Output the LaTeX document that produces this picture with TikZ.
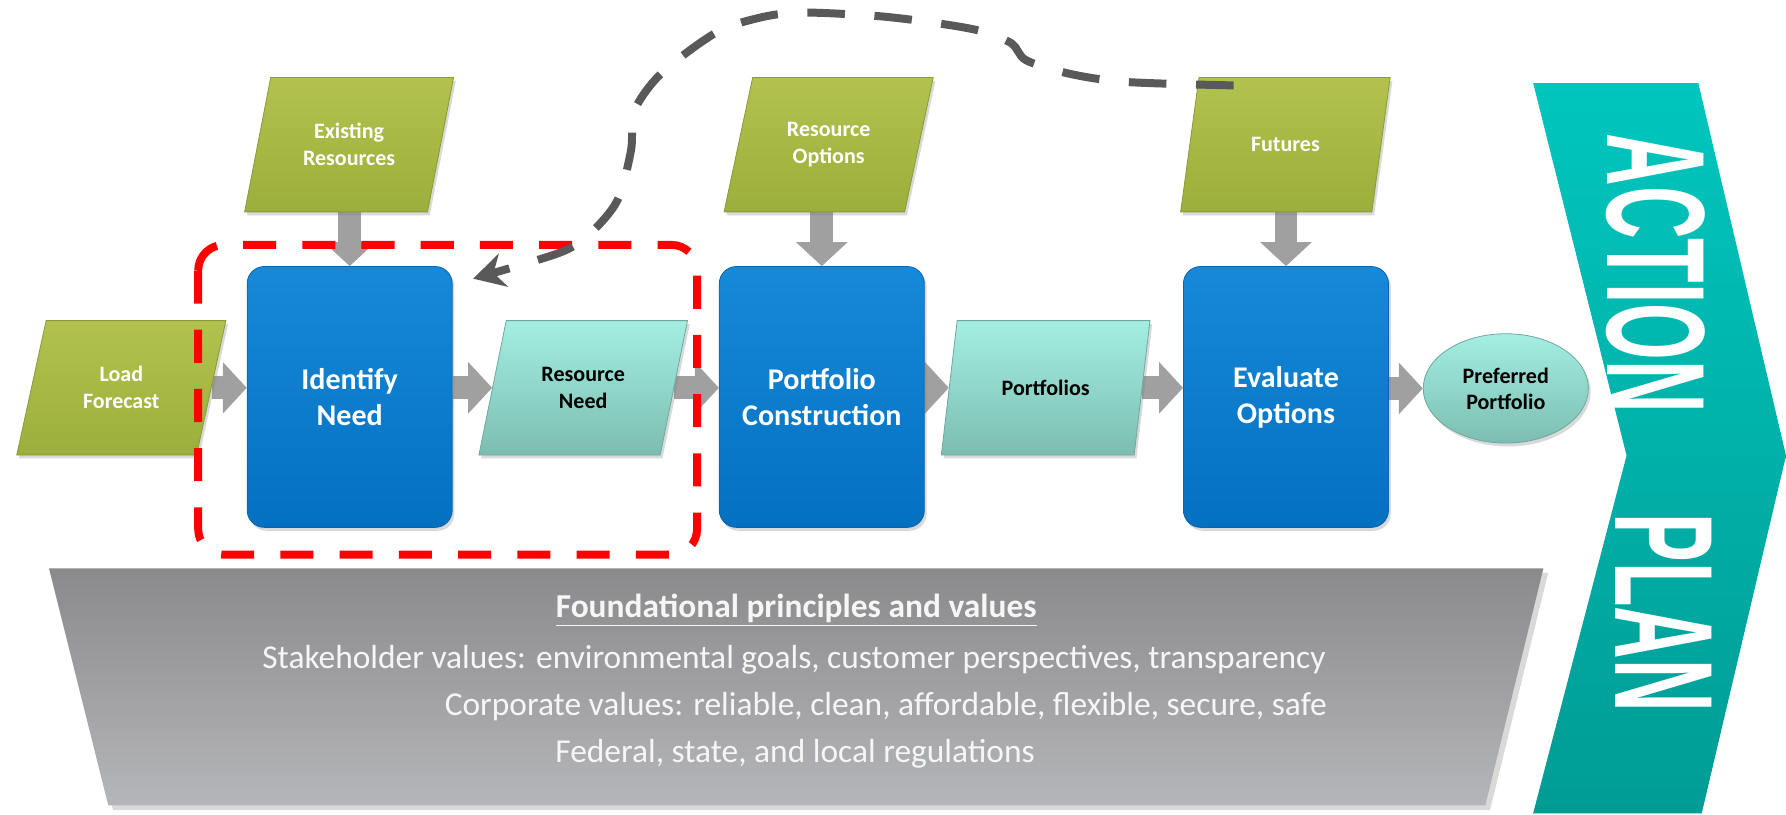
\documentclass[tikz,border=0pt]{standalone}
\usepackage{fontspec}
\setmainfont{Carlito}
\newfontfamily\bannerfont{Liberation Sans}
\usetikzlibrary{shapes.geometric, arrows.meta, shadows, backgrounds, calc}

\definecolor{proctop}{HTML}{1689D8}
\definecolor{procbot}{HTML}{0470C0}
\definecolor{procedge}{HTML}{0B64AA}
\definecolor{greentop}{HTML}{B3C24E}
\definecolor{greenbot}{HTML}{9CAE3B}
\definecolor{greenedge}{HTML}{8A9A35}
\definecolor{tealtop}{HTML}{A4EEE2}
\definecolor{tealbot}{HTML}{7CBDB1}
\definecolor{tealedge}{HTML}{6FA89E}
\definecolor{arrowgray}{HTML}{A0A0A0}
\definecolor{paneltop}{HTML}{8A8A8C}
\definecolor{panelbot}{HTML}{B5B6B9}
\definecolor{chevtop}{HTML}{00C6BE}
\definecolor{chevbot}{HTML}{009C94}
\definecolor{loopgray}{HTML}{595959}

\begin{document}
\begin{tikzpicture}[every node/.style={align=center},
  stepbox/.style={draw=procedge, rounded corners=0.3cm, minimum width=3.6cm, minimum height=4.58cm,
    top color=proctop, bottom color=procbot, text=white, font=\bfseries\fontsize{15}{18}\selectfont,
    drop shadow={shadow xshift=0.04cm, shadow yshift=-0.06cm, opacity=0.3}},
  inbox/.style={trapezium, trapezium left angle=72.6, trapezium right angle=107.4, trapezium stretches=true,
    minimum width=3.68cm, minimum height=2.36cm, draw=greenedge, top color=greentop, bottom color=greenbot,
    text=white, font=\bfseries\fontsize{11}{13.5}\selectfont,
    drop shadow={shadow xshift=0.04cm, shadow yshift=-0.06cm, opacity=0.3}},
  outbox/.style={inbox, draw=tealedge, top color=tealtop, bottom color=tealbot, text=black},
  goalbox/.style={ellipse, minimum width=2.9cm, minimum height=1.92cm, draw=tealedge,
    top color=tealtop, bottom color=tealbot, font=\bfseries\fontsize{11}{13}\selectfont,
    drop shadow={shadow xshift=0.04cm, shadow yshift=-0.06cm, opacity=0.3}},
  flow/.style={draw=arrowgray, line width=0.4cm, -{Triangle[width=0.88cm, length=0.42cm]}},
  focus/.style={draw=red, line width=0.14cm, rounded corners=0.45cm, dash pattern=on 0.58cm off 0.46cm},
  feedback/.style={draw=loopgray, line width=0.14cm, dash pattern=on 0.66cm off 0.52cm,
    -{Stealth[length=0.55cm, width=0.6cm]}},
  paneltext/.style={text=white!93!gray, font=\fontsize{16.7}{20}\selectfont},
  banner/.style={rotate=-90, text=white, font=\bannerfont\bfseries\fontsize{70}{70}\selectfont}]

\useasboundingbox (0,0) rectangle (31.36,-14.3);

% Foundation panel and action chevron
\path[top color=paneltop, bottom color=panelbot, drop shadow={shadow yshift=-0.08cm, opacity=0.3}]
  (0.86,-9.98) -- (27.1,-9.98) -- (26.08,-14.14) -- (1.9,-14.14) -- cycle;
\path[top color=chevtop, bottom color=chevbot]
  (26.92,-1.46) -- (29.82,-1.46) -- (31.36,-8.0) -- (29.88,-14.28) -- (26.92,-14.28) -- (28.56,-8.0) -- cycle;

% Nodes
\node[inbox] (load) at (2.13,-6.81) {Load\\Forecast};
\node[inbox] (exist) at (6.13,-2.54) {Existing\\Resources};
\node[inbox] (options) at (14.55,-2.54) {Resource\\Options};
\node[inbox] (futures) at (22.57,-2.54) {Futures};

\node[stepbox] (identify) at (6.14,-6.97) {Identify\\Need};
\node[stepbox] (construct) at (14.43,-6.97) {Portfolio\\Construction};
\node[stepbox] (evaluate) at (22.58,-6.97) {Evaluate\\Options};

\node[outbox] (need) at (10.24,-6.81) {Resource\\Need};
\node[outbox] (portfolios) at (18.36,-6.81) {Portfolios};
\node[goalbox] (preferred) at (26.44,-6.82) {Preferred\\Portfolio};

\node[paneltext, font=\bfseries\fontsize{16.7}{20}\selectfont] (principles) at (13.98,-10.72)
  {\underline{Foundational principles and values}};
\node[paneltext] (stakeholder) at (13.94,-11.58)
  {Stakeholder values: environmental goals, customer perspectives, transparency};
\node[paneltext, anchor=east] (corporate) at (23.42,-12.4)
  {Corporate values: reliable, clean, affordable, flexible, secure, safe};
\node[paneltext] (regulations) at (13.96,-13.24) {Federal, state, and local regulations};

\node[banner] (action) at (29.08,-4.8) {\scalebox{0.52}[1]{ACTION}};
\node[banner] (plan) at (29.22,-10.76) {\scalebox{0.52}[1]{PLAN}};

% Edges
\begin{scope}[on background layer]
\draw[flow] (load.east) -- (load.east -| identify.west);
\draw[flow] (identify.east |- need.west) -- (need.west);
\draw[flow] (need.east) -- (need.east -| construct.west);
\draw[flow] (construct.east |- portfolios.west) -- (portfolios.west);
\draw[flow] (portfolios.east) -- (portfolios.east -| evaluate.west);
\draw[flow] (evaluate.east |- preferred.west) -- (preferred.west);
\draw[flow] (exist.south -| identify.north) -- (identify.north);
\draw[flow] (options.south -| construct.north) -- (construct.north);
\draw[flow] (futures.south -| evaluate.north) -- (evaluate.north);
\end{scope}

% Highlight and feedback loop
\draw[focus] (3.48,-4.3) rectangle (12.24,-9.74);

\coordinate (loopstart) at (21.66,-1.5);
\coordinate (loopend) at ($(identify.north east)+(0.36,-0.22)$);
\draw[feedback] plot[smooth, tension=0.5] coordinates {(loopstart) (19.78,-1.44) (18.8,-1.3)
  (18.02,-1.06) (17.76,-0.76) (17.2,-0.54) (16.4,-0.4) (15.38,-0.28) (14.04,-0.22) (13.3,-0.32)
  (12.56,-0.58) (11.62,-1.28) (11.14,-1.94) (11.08,-2.64) (10.84,-3.52) (10.36,-4.1) (9.82,-4.44) (loopend)};

\end{tikzpicture}
\end{document}
